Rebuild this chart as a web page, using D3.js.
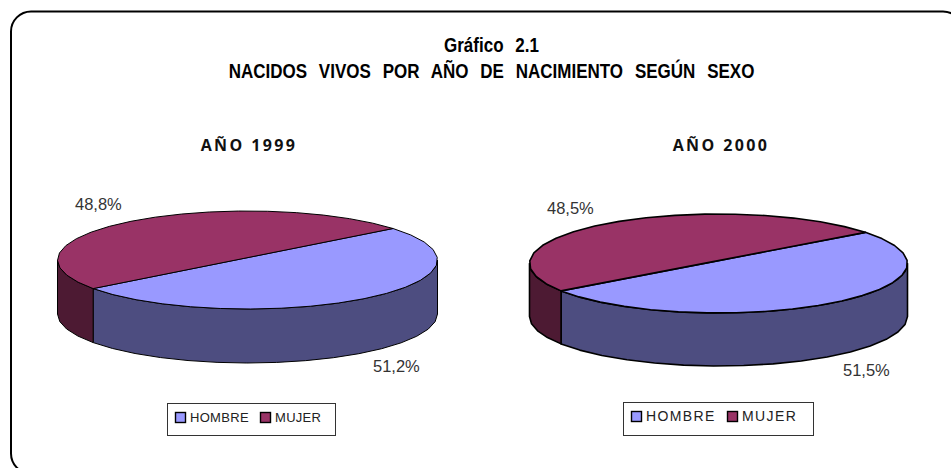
<!DOCTYPE html>
<html>
<head>
<meta charset="UTF-8">
<title></title>
<script src="https://cdn.jsdelivr.net/npm/d3@7/dist/d3.min.js"></script>
<style>
html,body{margin:0;padding:0;background:#fff;overflow:hidden}
svg{display:block}
</style>
</head>
<body>
<svg id="chart" width="951" height="468"></svg>
<script>
var categories = ["HOMBRE", "MUJER"];
var years = ["AÑO 1999", "AÑO 2000"];
var values1999 = [51.2, 48.8];
var values2000 = [51.5, 48.5];
var labels1999 = ["51,2%", "48,8%"];
var labels2000 = ["51,5%", "48,5%"];
var titleLines = ["Gráfico 2.1", "NACIDOS VIVOS POR AÑO DE NACIMIENTO SEGÚN SEXO"];

var colors = {HOMBRE: "#9999ff", MUJER: "#993366"};
var sideColors = {HOMBRE: "#4d4d80", MUJER: "#4d1a33"};

var svg = d3.select("#chart");

// marco redondeado (se sale del lienzo por la derecha y por abajo)
svg.append("rect")
	.attr("x", 11).attr("y", 11.5)
	.attr("width", 952).attr("height", 462)
	.attr("rx", 20).attr("ry", 20)
	.attr("fill", "#fff").attr("stroke", "#000").attr("stroke-width", 2);

// titulo
svg.selectAll("text.title").data(titleLines).enter().append("text")
	.attr("class", "title")
	.attr("transform", function(d, i){ return "translate(491.5," + (52 + i * 26) + ") scale(0.85,1)"; })
	.attr("text-anchor", "middle")
	.attr("font-family", "'Liberation Sans', sans-serif")
	.attr("font-weight", "bold")
	.attr("font-size", 20)
	.attr("word-spacing", 8.4)
	.attr("fill", "#000")
	.text(function(d){ return d; });

function drawPie(cfg){
	var g = svg.append("g");

	// pasar de angulo a pantalla: elipse aplastada
	var sx = d3.scaleLinear().domain([-1, 1]).range([cfg.cx - cfg.rx, cfg.cx + cfg.rx]);
	var sy = d3.scaleLinear().domain([-1, 1]).range([cfg.cy - cfg.ry, cfg.cy + cfg.ry]);
	var line = d3.line();

	var pie = d3.pie().sort(null)
		.startAngle(cfg.start)
		.endAngle(cfg.start + 2 * Math.PI);
	var arcs = pie(cfg.values);

	function pt(a, dy){
		return [sx(Math.sin(a)), sy(-Math.cos(a)) + (dy || 0)];
	}
	// contorno poligonal, igual que el grafico original
	function samples(a0, a1){
		var n = Math.max(1, Math.round((a1 - a0) / (Math.PI / 20)));
		return d3.range(n + 1).map(function(i){ return a0 + (a1 - a0) * i / n; });
	}

	// paredes (solo la parte delantera, de 90 a 270 grados)
	var front0 = Math.PI / 2, front1 = 3 * Math.PI / 2;
	arcs.forEach(function(d, i){
		var a0 = Math.max(d.startAngle, front0), a1 = Math.min(d.endAngle, front1);
		if(a1 <= a0) return;
		var s = samples(a0, a1);
		var top = s.map(function(a){ return pt(a, 0); });
		var bottom = s.slice().reverse().map(function(a){ return pt(a, cfg.depth); });
		g.append("path")
			.attr("d", line(top.concat(bottom)) + "Z")
			.attr("fill", sideColors[categories[i]])
			.attr("stroke", "#000").attr("stroke-width", cfg.stroke)
			.attr("stroke-linejoin", "round");
	});

	// cara superior; el corte es una recta entre los dos puntos del borde
	var cutA = pt(arcs[0].startAngle), cutB = pt(arcs[0].endAngle);
	var apex = [(cutA[0] + cutB[0]) / 2, (cutA[1] + cutB[1]) / 2];
	arcs.forEach(function(d, i){
		var s = samples(d.startAngle, d.endAngle);
		var p = [apex].concat(s.map(function(a){ return pt(a, 0); }));
		g.append("path")
			.attr("d", line(p) + "Z")
			.attr("fill", colors[categories[i]])
			.attr("stroke", "#000").attr("stroke-width", cfg.stroke)
			.attr("stroke-linejoin", "round");
	});

	// subtitulo
	g.append("text")
		.attr("x", cfg.titleX).attr("y", 151)
		.attr("text-anchor", "middle")
		.attr("font-family", "'Open Sans', 'Liberation Sans', sans-serif")
		.attr("font-weight", "bold").attr("font-size", 16)
		.attr("letter-spacing", 2.4)
		.attr("fill", "#111")
		.text(cfg.year);

	// etiquetas de porcentaje
	g.selectAll("text.pct").data(cfg.labels).enter().append("text")
		.attr("class", "pct")
		.attr("x", function(d, i){ return cfg.labelX[i]; })
		.attr("y", function(d, i){ return cfg.labelY[i]; })
		.attr("font-family", "'Liberation Sans', sans-serif")
		.attr("font-size", 16.5)
		.attr("fill", "#333")
		.text(function(d){ return d; });

	// leyenda
	var lg = cfg.legend;
	g.append("rect")
		.attr("x", lg.x + 0.5).attr("y", lg.y + 0.5)
		.attr("width", lg.w).attr("height", lg.h)
		.attr("fill", "#fff").attr("stroke", "#333").attr("stroke-width", 1);
	categories.forEach(function(c, i){
		g.append("rect")
			.attr("x", lg.x + lg.keys[i] + 0.5).attr("y", lg.y + lg.keyY + 0.5)
			.attr("width", 10).attr("height", 10)
			.attr("fill", colors[c]).attr("stroke", "#000").attr("stroke-width", 1.4);
		g.append("text")
			.attr("x", lg.x + lg.keys[i] + lg.gap).attr("y", lg.y + lg.textY)
			.attr("font-family", "'Liberation Sans', sans-serif")
			.attr("font-size", lg.size)
			.attr("letter-spacing", lg.spacing)
			.attr("fill", "#222")
			.text(c);
	});
}

drawPie({
	year: years[0], values: values1999, labels: labels1999,
	cx: 247.5, cy: 260, rx: 190, ry: 49, depth: 54, stroke: 1,
	start: 50 * Math.PI / 180,
	titleX: 249,
	labelX: [373, 75], labelY: [372, 210],
	legend: {x: 167, y: 403, w: 168, h: 32, keys: [8, 93], keyY: 9, textY: 19, gap: 15, size: 13, spacing: 0.3}
});
drawPie({
	year: years[1], values: values2000, labels: labels2000,
	cx: 718.5, cy: 263.5, rx: 189, ry: 49.5, depth: 53, stroke: 1.6,
	start: 51 * Math.PI / 180,
	titleX: 721,
	labelX: [843, 547], labelY: [376, 214],
	legend: {x: 623, y: 402, w: 190, h: 33, keys: [8, 104], keyY: 9, textY: 19, gap: 15, size: 14, spacing: 1.4}
});
</script>
</body>
</html>
